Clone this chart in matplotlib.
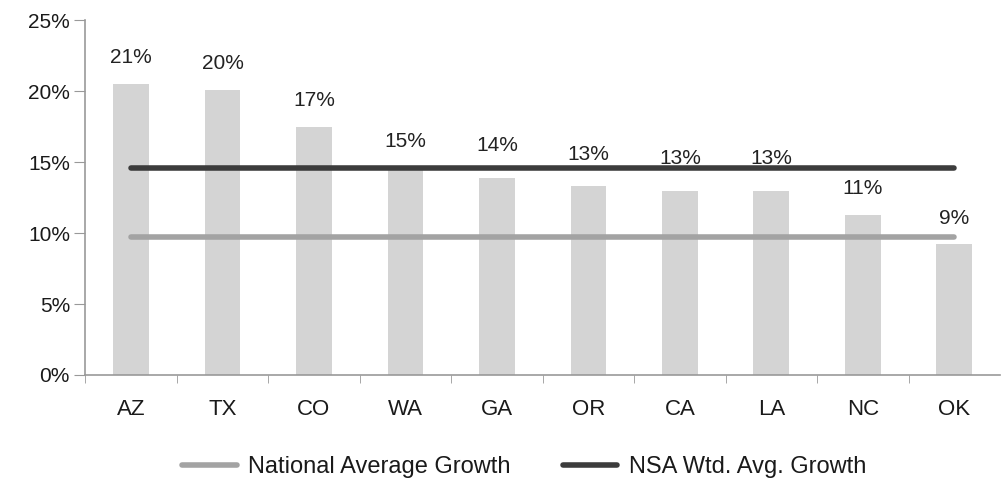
import matplotlib.pyplot as plt
import numpy as np

states = ["AZ", "TX", "CO", "WA", "GA", "OR", "CA", "LA", "NC", "OK"]
growth = [20.5, 20.1, 17.5, 14.6, 13.9, 13.3, 13.0, 13.0, 11.3, 9.2]
labels = ["21%", "20%", "17%", "15%", "14%", "13%", "13%", "13%", "11%", "9%"]
national_avg = 9.7
nsa_avg = 14.6

plt.rcParams['font.family'] = ['Liberation Sans', 'DejaVu Sans']

fig = plt.figure(figsize=(10.03, 4.82), dpi=100)
ax = fig.add_axes([0.085, 0.222, 0.912, 0.736])

x = np.arange(len(states))
ax.bar(x, growth, width=0.39, color="#d4d4d4", zorder=1)
for xi, v, lab in zip(x, growth, labels):
    # labels that sit just under the NSA line are nudged up, as in the source
    dy = 19 if abs(v - nsa_avg) < 2 and v < nsa_avg - 0.5 else 15
    ax.annotate(lab, (xi, v), xytext=(0, dy), textcoords="offset points",
                ha="center", va="baseline", fontsize=15, color="#222222",
                zorder=1.5)

ax.plot([x[0], x[-1]], [national_avg] * 2, color="#a3a3a3", lw=4,
        solid_capstyle="round", label="National Average Growth", zorder=2)
ax.plot([x[0], x[-1]], [nsa_avg] * 2, color="#3c3c3c", lw=4,
        solid_capstyle="round", label="NSA Wtd. Avg. Growth", zorder=3)

ax.set_xlim(-0.5, len(states) - 0.5)
ax.set_ylim(0, 25)
ax.set_yticks([0, 5, 10, 15, 20, 25])
ax.set_yticklabels([f"{v}%" for v in [0, 5, 10, 15, 20, 25]])
ax.set_xticks(x)
ax.set_xticklabels(states)
ax.set_xticks(np.arange(-0.5, len(states) - 0.5, 1), minor=True)
ax.tick_params(axis="x", which="major", length=0, pad=17, labelsize=16,
               labelcolor="#1a1a1a")
ax.tick_params(axis="x", which="minor", length=6, color="#999999", direction="out")
ax.tick_params(axis="y", length=8, color="#999999", labelsize=15, pad=3,
               labelcolor="#1a1a1a")

for s in ["top", "right"]:
    ax.spines[s].set_visible(False)
for s in ["left", "bottom"]:
    ax.spines[s].set_color("#999999")
    ax.spines[s].set_linewidth(1.2)

ax.legend(loc="center", bbox_to_anchor=(0.48, -0.26), ncol=2, frameon=False,
          fontsize=17, handlelength=2.3, handletextpad=0.5, columnspacing=2.2,
          labelcolor="#1a1a1a")

fig.savefig("out.png", dpi=100)
